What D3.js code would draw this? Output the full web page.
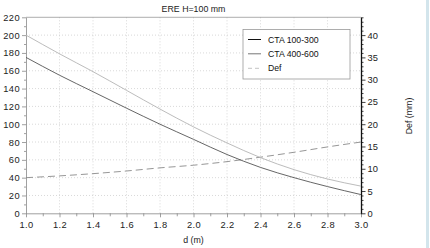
<!DOCTYPE html>
<html><head><meta charset="utf-8">
<script src="https://cdn.jsdelivr.net/npm/d3@7"></script>
<style>
html,body{margin:0;padding:0;background:#fff;}
svg{display:block;font-family:"Liberation Sans",Arial,sans-serif;}
</style></head>
<body><svg id="c" width="430" height="248"></svg>
<script>
const dValues = [1.0, 1.2, 1.4, 1.6, 1.8, 2.0, 2.2, 2.4, 2.6, 2.8, 3.0];
const cta100_300 = [175, 155, 136.5, 118, 100, 83, 66, 51.5, 40, 30, 21];
const cta400_600 = [200, 179, 159, 138, 117, 97, 79, 62.5, 49, 38.5, 30.5];
const defValues = [8.0, 8.4, 8.9, 9.5, 10.2, 10.8, 11.6, 12.6, 13.7, 14.9, 16.0];
const seriesNames = ["CTA 100-300", "CTA 400-600", "Def"];
const xTicks = [1.0, 1.2, 1.4, 1.6, 1.8, 2.0, 2.2, 2.4, 2.6, 2.8, 3.0];
const yLeftTicks = [0, 20, 40, 60, 80, 100, 120, 140, 160, 180, 200, 220];
const yRightTicks = [0, 5, 10, 15, 20, 25, 30, 35, 40];
const titleText = "ERE H=100 mm";
const xLabel = "d (m)";
const yRightLabel = "Def (mm)";

const svg = d3.select("#c");
const L = 26, R = 361, T = 17.3, B = 213.3;
const x = d3.scaleLinear().domain([1, 3]).range([L, R]);
const yL = d3.scaleLinear().domain([0, 220]).range([B, T]);
const yR = d3.scaleLinear().domain([0, 44]).range([B, T]);

svg.append("rect").attr("x", 426).attr("y", 0).attr("width", 3).attr("height", 248).attr("fill", "#d3e5ec");

const g = svg.append("g");
g.selectAll(".gx").data(xTicks.slice(1, -1)).enter().append("line")
  .attr("x1", d => x(d)).attr("x2", d => x(d)).attr("y1", T).attr("y2", B)
  .attr("stroke", "#c8c8c8").attr("stroke-width", 0.7).attr("stroke-dasharray", "1,2");
g.selectAll(".gy").data(yLeftTicks.slice(1, -1)).enter().append("line")
  .attr("x1", L).attr("x2", R).attr("y1", d => yL(d)).attr("y2", d => yL(d))
  .attr("stroke", "#c8c8c8").attr("stroke-width", 0.7).attr("stroke-dasharray", "1,2");

svg.append("line").attr("x1", L).attr("x2", R).attr("y1", T).attr("y2", T).attr("stroke", "#999").attr("stroke-width", 0.8);

function styleAxis(sel, color, w) {
  sel.select(".domain").attr("stroke", color).attr("stroke-width", w);
  sel.selectAll(".tick line").attr("stroke", color).attr("stroke-width", 0.8);
  sel.selectAll("text").attr("fill", "#222").style("font-size", "9.3px").style("font-family", "Liberation Sans, Arial, sans-serif");
}

const leftMinor = d3.range(10, 220, 20);
svg.append("g").attr("transform", `translate(${L},0)`)
  .call(d3.axisLeft(yL).tickValues(leftMinor).tickSize(2).tickFormat(""))
  .call(s => { s.select(".domain").remove(); s.selectAll(".tick line").attr("stroke", "#888").attr("stroke-width", 0.8); });
const axL = svg.append("g").attr("transform", `translate(${L},0)`)
  .call(d3.axisLeft(yL).tickValues(yLeftTicks).tickSize(4).tickSizeOuter(0).tickPadding(2).tickFormat(d3.format("d")));
styleAxis(axL, "#888", 0.8);
axL.selectAll("text").attr("letter-spacing", "0.4px");

const xMinor = d3.range(1.1, 3.0, 0.2);
svg.append("g").attr("transform", `translate(0,${B})`)
  .call(d3.axisBottom(x).tickValues(xMinor).tickSize(3).tickFormat(""))
  .call(s => { s.select(".domain").remove(); s.selectAll(".tick line").attr("stroke", "#888").attr("stroke-width", 0.8); });
const axB = svg.append("g").attr("transform", `translate(0,${B})`)
  .call(d3.axisBottom(x).tickValues(xTicks).tickSize(4).tickSizeOuter(0).tickPadding(4).tickFormat(d3.format(".1f")));
styleAxis(axB, "#888", 0.8);
axB.selectAll("text").attr("letter-spacing", "0.3px");

const rightMinor = d3.range(0, 45, 1).filter(v => v % 5 !== 0);
svg.append("g").attr("transform", `translate(${R},0)`)
  .call(d3.axisRight(yR).tickValues(rightMinor).tickSize(2.5).tickFormat(""))
  .call(s => { s.select(".domain").remove(); s.selectAll(".tick line").attr("stroke", "#111").attr("stroke-width", 0.8); });
const axR = svg.append("g").attr("transform", `translate(${R},0)`)
  .call(d3.axisRight(yR).tickValues(yRightTicks).tickSize(4.5).tickSizeOuter(0).tickPadding(2).tickFormat(d3.format("d")));
styleAxis(axR, "#111", 1.3);

const ptsA = dValues.map((d, i) => [d, cta100_300[i]]);
const ptsB = dValues.map((d, i) => [d, cta400_600[i]]);
const ptsD = dValues.map((d, i) => [d, defValues[i]]);
const lineL = d3.line().x(p => x(p[0])).y(p => yL(p[1])).curve(d3.curveMonotoneX);
const lineR = d3.line().x(p => x(p[0])).y(p => yR(p[1])).curve(d3.curveMonotoneX);
svg.append("path").attr("d", lineR(ptsD)).attr("fill", "none").attr("stroke", "#8a8a8a").attr("stroke-width", 0.9).attr("stroke-dasharray", "7,4");
svg.append("path").attr("d", lineL(ptsB)).attr("fill", "none").attr("stroke", "#b4b4b4").attr("stroke-width", 0.9);
svg.append("path").attr("d", lineL(ptsA)).attr("fill", "none").attr("stroke", "#555").attr("stroke-width", 0.9);

const lg = svg.append("g");
lg.append("rect").attr("x", 243).attr("y", 29.5).attr("width", 107).attr("height", 49.5)
  .attr("fill", "#fff").attr("stroke", "#999").attr("stroke-width", 0.8);
const legStyles = [{c: "#111", dash: null}, {c: "#777", dash: null}, {c: "#c4c4c4", dash: "4,3"}];
const rowY = [39.5, 53.8, 68.3];
seriesNames.forEach((n, i) => {
  lg.append("line").attr("x1", 248).attr("x2", 261).attr("y1", rowY[i]).attr("y2", rowY[i])
    .attr("stroke", legStyles[i].c).attr("stroke-width", 1).attr("stroke-dasharray", legStyles[i].dash);
  lg.append("text").attr("x", 268).attr("y", rowY[i] + 3).text(n)
    .style("font-size", "8.7px").attr("fill", "#111");
});

svg.append("text").attr("x", (L + R) / 2).attr("y", 12).attr("text-anchor", "middle")
  .style("font-size", "8.8px").attr("fill", "#222").text(titleText);
svg.append("text").attr("x", (L + R) / 2).attr("y", 243).attr("text-anchor", "middle")
  .style("font-size", "8.8px").attr("fill", "#222").text(xLabel);
svg.append("text").attr("transform", `translate(412,116) rotate(-90)`).attr("text-anchor", "middle")
  .style("font-size", "8.8px").attr("fill", "#222").text(yRightLabel);
</script>
</body></html>
